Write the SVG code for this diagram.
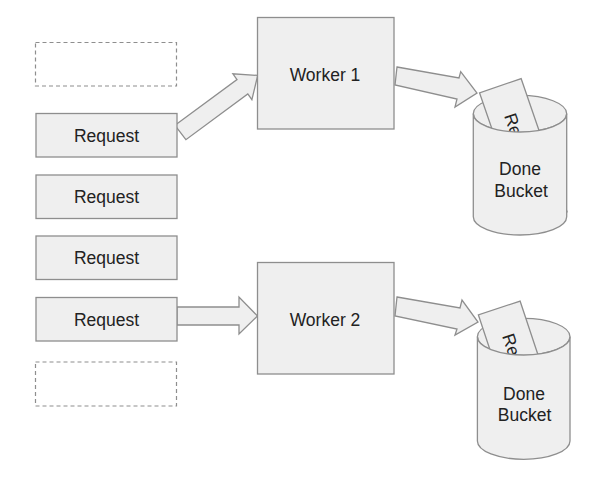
<svg xmlns="http://www.w3.org/2000/svg" width="600" height="479" viewBox="0 0 600 479">
<style>
.box{fill:#efefef;stroke:#8e8e8e;stroke-width:1.3}
.dash{fill:none;stroke:#8e8e8e;stroke-width:1.2;stroke-dasharray:4,3}
.arr{fill:#efefef;stroke:#8e8e8e;stroke-width:1.3;stroke-linejoin:miter}
.t{font-family:"Liberation Sans",Arial,sans-serif;font-size:17.5px;fill:#222;text-anchor:middle}
.ts{font-family:"Liberation Sans",Arial,sans-serif;font-size:17.5px;fill:#222}
</style>
<rect width="600" height="479" fill="#ffffff"/>
<g id="connectors">
<polygon class="arr" points="175,125.3 237,79.5 232.9,73.8 257.7,75.4 251.9,99.6 247.8,93.9 185.9,139.7"/>
<polygon class="arr" points="177,307 239,307 239,297 257.5,316 239,334 239,325 177,325"/>
<polygon class="arr" points="397,67 459,78 460.7,71.7 477,93 455,107 457,99 395,85"/>
<polygon class="arr" points="397,297 460,308 462,300 478,322 455,335 457,329 395,316"/>
</g>
<g id="slot-top"><rect class="dash" x="35.5" y="42.5" width="141" height="43.5"/></g>
<g id="request-1"><rect class="box" x="36" y="113.5" width="141" height="43.5"/><text class="t" x="106.5" y="141.5">Request</text></g>
<g id="request-2"><rect class="box" x="36" y="175" width="141" height="43.5"/><text class="t" x="106.5" y="203">Request</text></g>
<g id="request-3"><rect class="box" x="36" y="236" width="141" height="43.5"/><text class="t" x="106.5" y="264">Request</text></g>
<g id="request-4"><rect class="box" x="36" y="297.5" width="141" height="43.5"/><text class="t" x="106.5" y="325.5">Request</text></g>
<g id="slot-bottom"><rect class="dash" x="35.5" y="362" width="141" height="44"/></g>
<g id="worker-1"><rect class="box" x="257.5" y="17.5" width="136.5" height="111.5"/><text class="t" x="325" y="80.5">Worker 1</text></g>
<g id="worker-2"><rect class="box" x="257.5" y="262.5" width="136.5" height="111.5"/><text class="t" x="325" y="325.5">Worker 2</text></g>
<g id="bucket-1">
<ellipse class="box" cx="520" cy="113.7" rx="46.7" ry="18.3"/>
<g transform="translate(523.3,152.4) rotate(71)">
<rect class="box" x="-70.5" y="-22" width="141" height="44"/>
<text class="ts" x="-41" y="6.3">Request</text>
</g>
<path class="box" d="M473.3,113.7 A46.7,18.3 0 0 0 566.7,113.7 L566.7,216.7 A46.7,18.3 0 0 1 473.3,216.7 Z"/>
<text class="t" x="520" y="175">Done</text>
<text class="t" x="521" y="196.7">Bucket</text>
</g>
<g id="bucket-2">
<ellipse class="box" cx="523.7" cy="336.7" rx="46.3" ry="18.3"/>
<g transform="translate(521.5,374.9) rotate(71.6)">
<rect class="box" x="-70.5" y="-22" width="141" height="44"/>
<text class="ts" x="-43" y="6.3">Request</text>
</g>
<path class="box" d="M477.4,336.7 A46.3,18.3 0 0 0 570,336.7 L570,441 A46.3,18.3 0 0 1 477.4,441 Z"/>
<text class="t" x="524" y="400">Done</text>
<text class="t" x="524.5" y="420.5">Bucket</text>
</g>
</svg>
